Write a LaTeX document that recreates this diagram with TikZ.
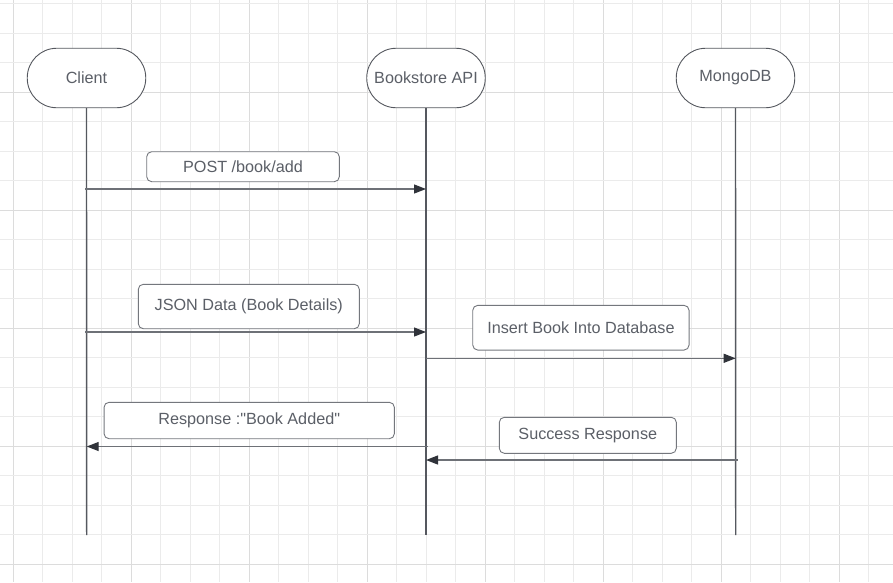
\documentclass[tikz,border=0pt]{standalone}
\usepackage{fontspec}
\setmainfont{Liberation Sans}
\usetikzlibrary{arrows.meta}
\definecolor{gridminor}{HTML}{EBEBEB}
\definecolor{gridmajor}{HTML}{DCDCDC}
\definecolor{txt}{HTML}{5B5F67}
\definecolor{lifec}{HTML}{55585F}
\definecolor{msgc}{HTML}{6E7177}
\definecolor{headc}{HTML}{30333A}
\definecolor{boxc}{HTML}{74777D}
\tikzset{
  actor/.style={draw=lifec, line width=0.9pt, fill=white, rounded corners=29.5pt,
    minimum width=118.5pt, minimum height=59.5pt, inner sep=0pt, text=txt,
    font=\fontsize{16.2pt}{19pt}\selectfont},
  lifeline/.style={draw=lifec, line width=1.4pt},
  msg/.style={draw=msgc, line width=1.2pt,
    -{Triangle[length=12pt,width=9pt,color=headc]}},
  lbl/.style={draw=boxc, line width=0.9pt, fill=white, rounded corners=5pt,
    inner sep=0pt, text=txt, font=\fontsize{16.2pt}{19pt}\selectfont},
}
\begin{document}
\begin{tikzpicture}[x=1pt,y=-1pt]
\useasboundingbox[fill=white] (0,0) rectangle (893,582);
% grid
\foreach \k in {0,...,30}{
  \pgfmathsetmacro{\xx}{13.3+29.5*\k}
  \pgfmathtruncatemacro{\m}{mod(\k,4)}
  \ifnum\m=0
    \draw[gridmajor, line width=1pt] (\xx,0) -- (\xx,582);
  \else
    \draw[gridminor, line width=1pt] (\xx,0) -- (\xx,582);
  \fi
}
\foreach \k in {0,...,19}{
  \pgfmathsetmacro{\yy}{3.5+29.5*\k}
  \pgfmathtruncatemacro{\m}{mod(\k,4)}
  \ifnum\m=3
    \draw[gridmajor, line width=1pt] (0,\yy) -- (893,\yy);
  \else
    \draw[gridminor, line width=1pt] (0,\yy) -- (893,\yy);
  \fi
}
% actors
\node[actor] (client) at (86.5,78) {Client};
\node[actor] (api) at (426,78) {Bookstore API};
\node[actor] (mongo) at (735.5,78) {MongoDB};
% lifeline ends
\coordinate (clientEnd) at (86.7,535);
\coordinate (apiEnd) at (426,535);
\coordinate (mongoEnd) at (735.7,535);
\draw[lifeline] (client.south) -- (clientEnd);
\draw[lifeline] (api.south) -- (apiEnd);
\draw[lifeline] (mongo.south) -- (mongoEnd);
% message anchor points
\coordinate (c1) at (85,189);   \coordinate (a1) at (426,189);
\coordinate (c2) at (85,332);   \coordinate (a2) at (426,332);
\coordinate (a3) at (426,358.3); \coordinate (m3) at (735.7,358.3);
\coordinate (a4) at (428,446.5); \coordinate (c4) at (86.7,446.5);
\coordinate (m5) at (737.5,460); \coordinate (a5) at (426,460);
% messages
\draw[msg] (c1) -- (a1);
\draw[msg] (c2) -- (a2);
\draw[msg] (a3) -- (m3);
\draw[msg] (a4) -- (c4);
\draw[msg] (m5) -- (a5);
% labels
\node[lbl, minimum width=192.6pt, minimum height=30pt] (l1) at (243,166.7) {POST /book/add};
\node[lbl, minimum width=221pt, minimum height=44.4pt] (l2) at (248.8,306.5) {JSON Data (Book Details)};
\node[lbl, minimum width=216.3pt, minimum height=44.7pt] (l3) at (580.9,327.7) {Insert Book Into Database};
\node[lbl, minimum width=290.3pt, minimum height=36.4pt] (l4) at (249.2,420.5) {Response :\textquotedbl Book Added\textquotedbl};
\node[lbl, minimum width=177pt, minimum height=36pt] (l5) at (587.8,435.3) {Success Response};
\end{tikzpicture}
\end{document}
